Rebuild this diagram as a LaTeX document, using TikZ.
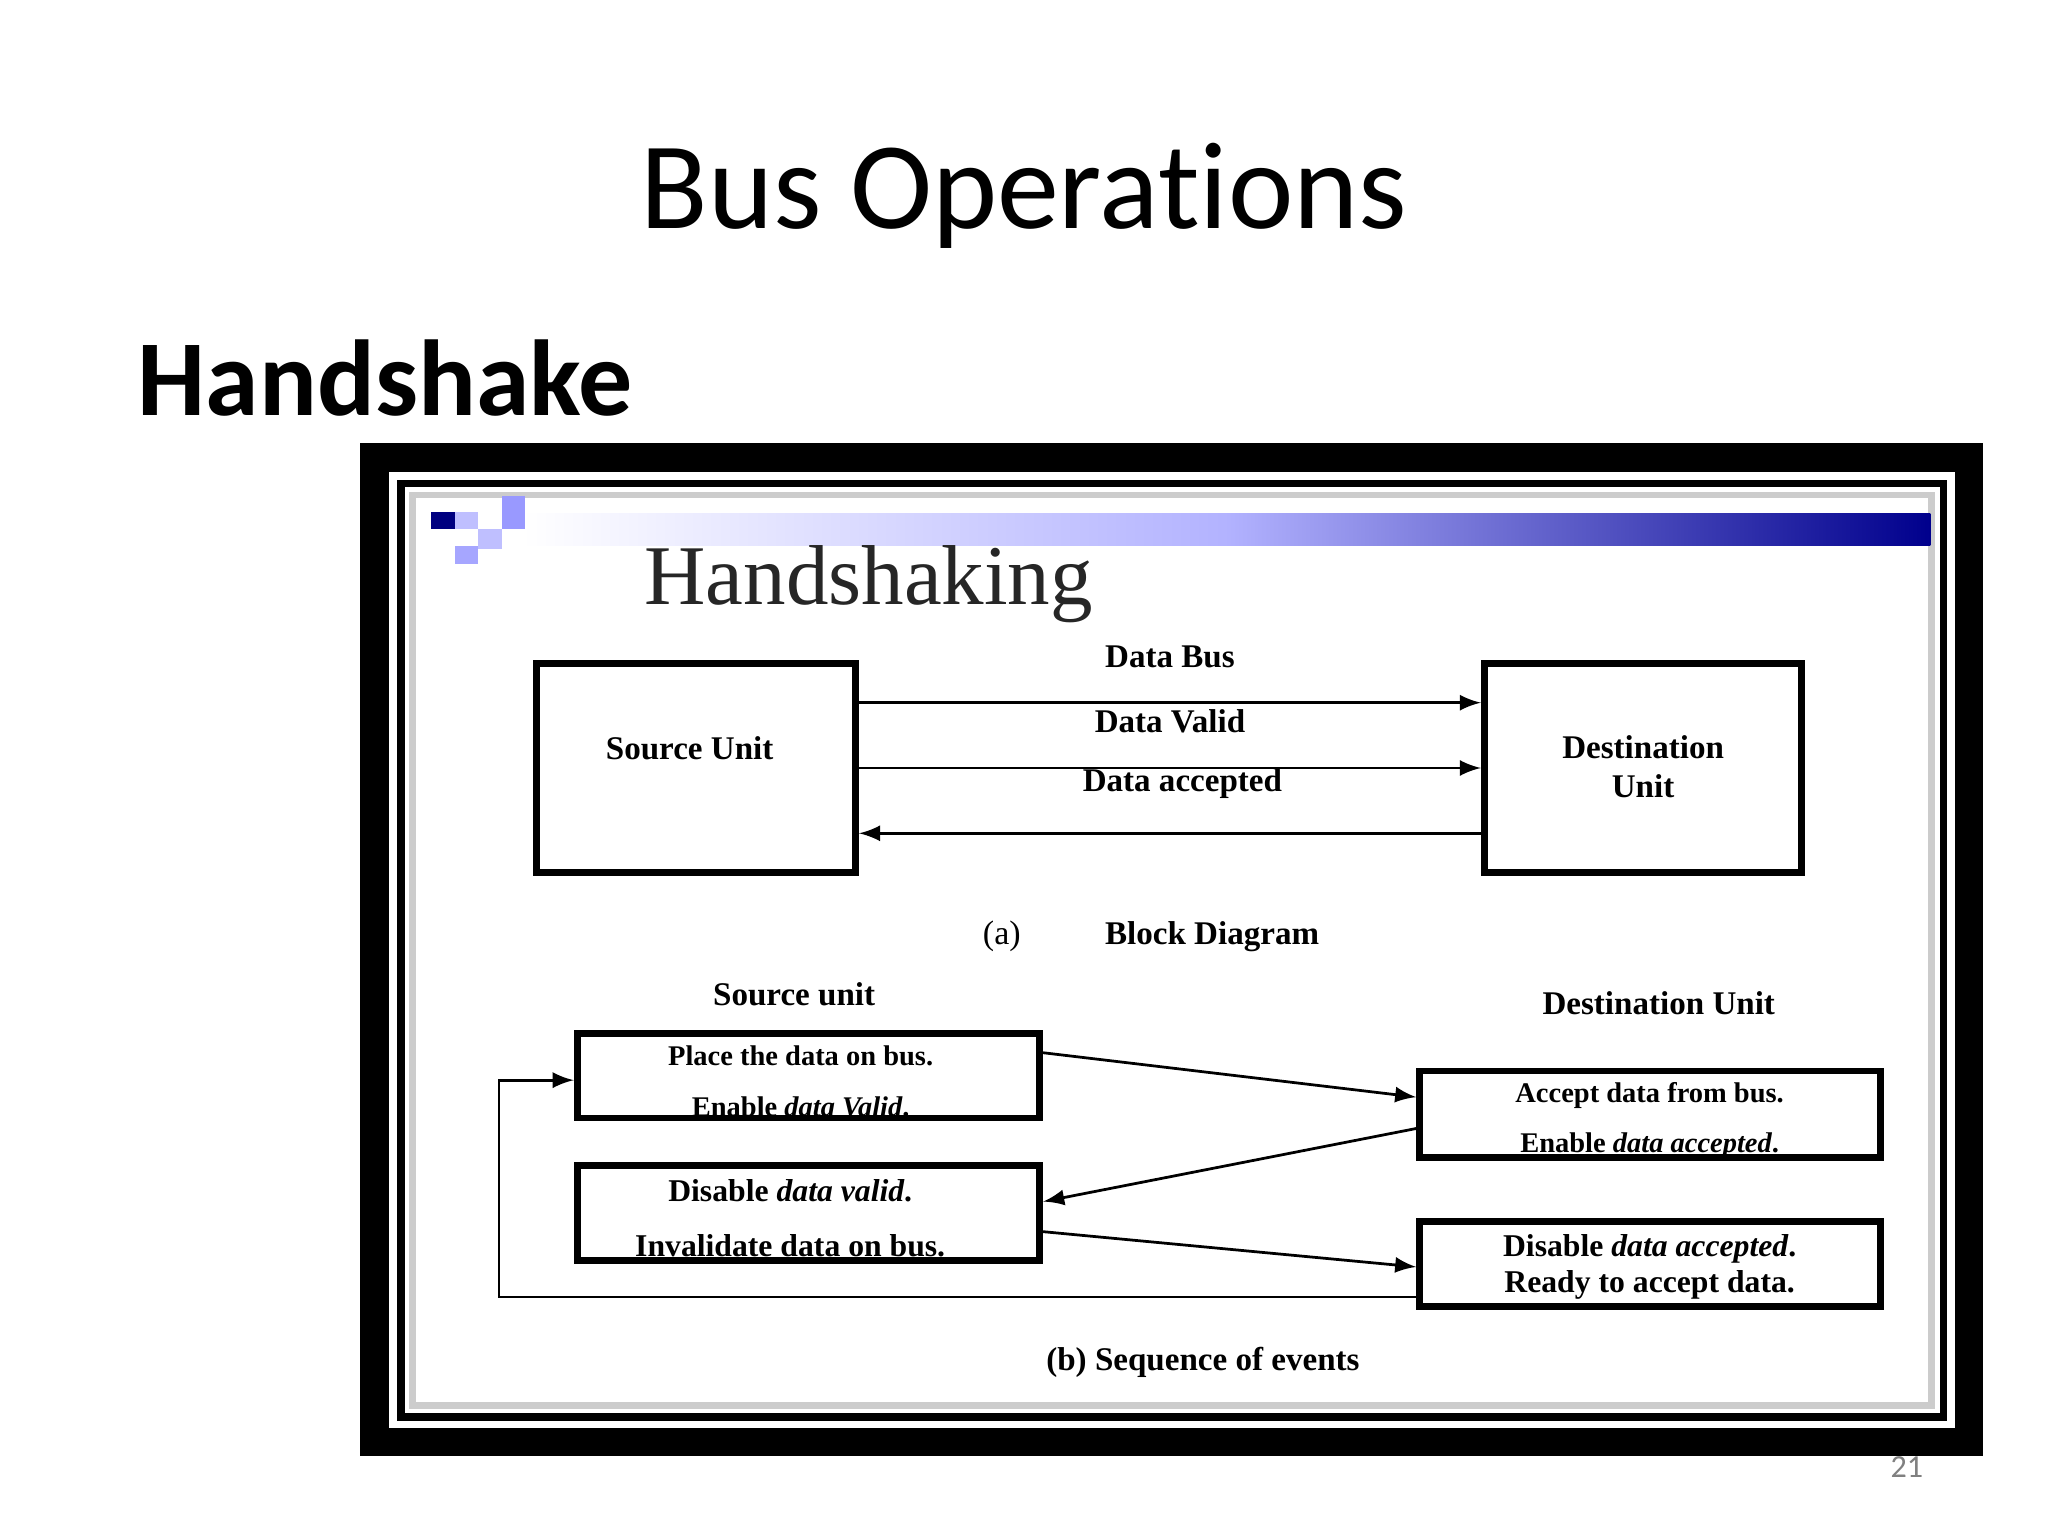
\documentclass[tikz,border=0pt]{standalone}
\usepackage{fontspec}
\setmainfont{Liberation Serif}
\newfontfamily\calfont[Ligatures=NoCommon]{Carlito}
\begin{document}
\begin{tikzpicture}[x=0.01cm,y=-0.01cm,
  box/.style={draw,line width=1.5pt,inner sep=0},
  lbl/.style={font=\bfseries\fontsize{7.2pt}{8.5pt}\selectfont,align=center},
  sml/.style={font=\bfseries\fontsize{6.2pt}{11pt}\selectfont,align=center},
  arr/.style={-latex,line width=0.6pt}]
\useasboundingbox (0,0) rectangle (1568,1176);
\fill[white] (0,0) rectangle (1568,1176);
\node[font=\calfont\fontsize{27pt}{30pt}\selectfont] (title) at (784,150) {Bus Operations};
\node[font=\calfont\bfseries\fontsize{23.5pt}{26pt}\selectfont,anchor=base west] (hs) at (93,318) {Handshake};
\node[font=\calfont\fontsize{7pt}{8pt}\selectfont,text=gray] (pg) at (1460,1123) {21};
% frame
\fill[black] (276,339) rectangle (1518,1115);
\fill[white] (298,361) rectangle (1497,1093);
\draw[line width=1.6pt] (307,370) rectangle (1488,1085);
\fill[white] (313,376) rectangle (1482,1079);
\draw[gray!40,line width=1.5pt] (316,379) rectangle (1479,1076);
% banner
\shade[left color=white,right color=blue!55!black,middle color=blue!30] (400,393) rectangle (1478,418);
\fill[blue!50!black] (330,392) rectangle (348,405);
\fill[blue!25] (348,392) rectangle (366,405);
\fill[blue!40] (384,380) rectangle (402,405);
\fill[blue!25] (366,405) rectangle (384,420);
\fill[blue!35] (348,418) rectangle (366,432);
\node[font=\fontsize{18.5pt}{20pt}\selectfont,anchor=base west,text=black!85] (hk) at (481,463) {Handshaking};
% block diagram
\node[box,minimum width=244*0.01cm,minimum height=160*0.01cm] (su) at (533,588) {};
\node[lbl] at (528,573) {Source Unit};
\node[box,minimum width=243*0.01cm,minimum height=160*0.01cm] (du) at (1258,588) {};
\node[lbl] at (1258,587) {Destination\\Unit};
\draw[arr] (su.east|-0,538) -- (du.west|-0,538) node[lbl,midway,above=4pt] {Data Bus};
\draw[arr] (su.east|-0,588) -- (du.west|-0,588) node[lbl,midway,above=4pt] {Data Valid};
\draw[arr] (du.west|-0,638) -- (su.east|-0,638) node[lbl,pos=0.48,above=4pt] {Data accepted};
\node[font=\fontsize{7.4pt}{8pt}\selectfont] (a) at (767,717) {(a)};
\node[lbl] (bd) at (928,717) {Block Diagram};
% sequence
\node[lbl] (sul) at (608,761) {Source unit};
\node[lbl] (dul) at (1270,768) {Destination Unit};
\node[box,minimum width=354*0.01cm,minimum height=65*0.01cm] (p) at (619,823.5) {};
\node[sml] at (613,828) {Place the data on bus.\\Enable \textit{data Valid}.};
\node[box,minimum width=353*0.01cm,minimum height=66*0.01cm] (ac) at (1263.5,853) {};
\node[sml] at (1263,858) {Accept data from bus.\\Enable \textit{data accepted}.};
\node[box,minimum width=354*0.01cm,minimum height=73*0.01cm] (d) at (619,928.5) {};
\node[lbl,font=\bfseries\fontsize{6.9pt}{12pt}\selectfont] at (605,933) {Disable \textit{data valid}.\\Invalidate data on bus.};
\node[box,minimum width=353*0.01cm,minimum height=65*0.01cm] (r) at (1263.5,967.5) {};
\node[lbl,font=\bfseries\fontsize{6.9pt}{8pt}\selectfont] at (1263,970) {Disable \textit{data accepted}.\\Ready to accept data.};
\draw[arr] (p.east|-0,806) -- (ac.west|-0,840);
\draw[arr] (ac.west|-0,864) -- (d.east|-0,920);
\draw[arr] (d.east|-0,943) -- (r.west|-0,970);
\coordinate (c1) at (382,993);
\coordinate (c2) at (382,827);
\draw[arr] (r.west|-0,993) -- (c1) -- (c2) -- (p.west|-0,827);
\node[lbl] (seq) at (921,1043) {(b) Sequence of events};
\end{tikzpicture}
\end{document}
